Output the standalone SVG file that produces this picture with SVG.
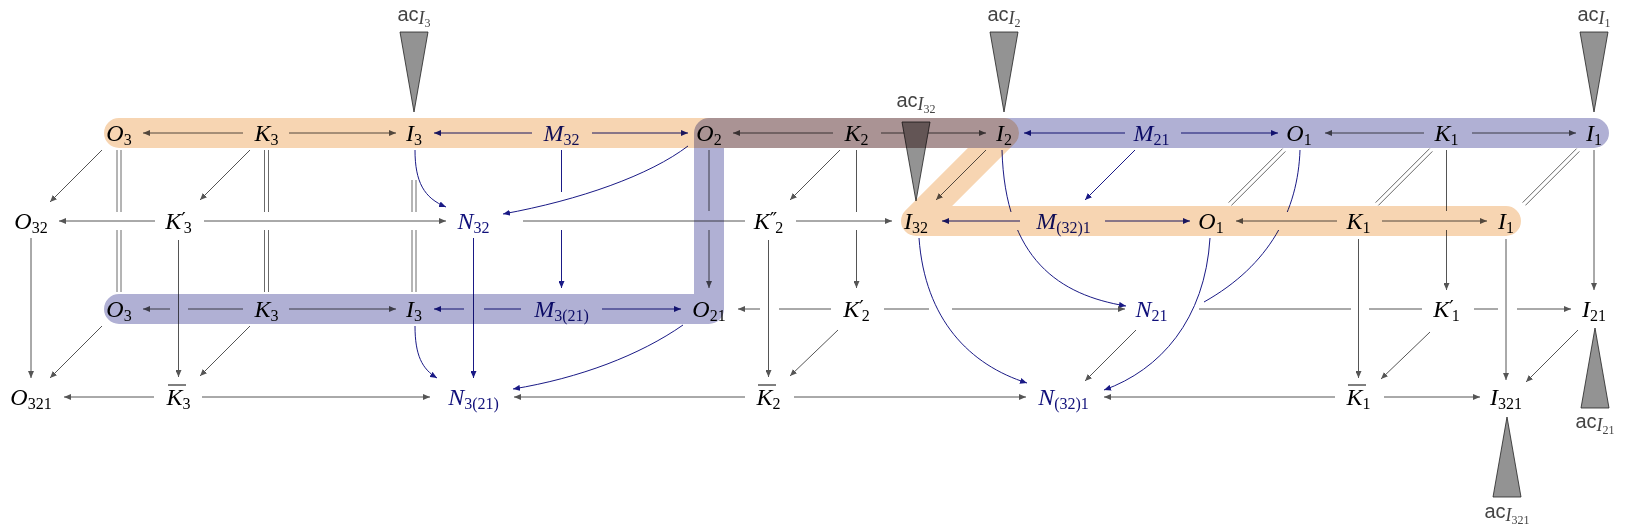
<svg xmlns="http://www.w3.org/2000/svg" width="1628" height="531" viewBox="0 0 1628 531">
<style>
.m{font-family:"Liberation Serif",serif;font-style:italic;font-size:24px;text-anchor:middle;fill:#000}
.nv{fill:#10107a}
.s{font-style:normal;font-size:16px}
.p{font-family:"DejaVu Sans",sans-serif;font-style:normal;font-size:20px}
.g{stroke:#555;stroke-width:1;fill:none}
.n{stroke:#1a1a86;stroke-width:1;fill:none}
.ga{marker-end:url(#hg)}
.na{marker-end:url(#hn)}
.eq{stroke:#6a6a6a;stroke-width:1;fill:none}
.ol{stroke:#000;stroke-width:1}
.ac{font-family:"Liberation Sans",sans-serif;font-size:20px;fill:#444;text-anchor:middle}
.aci{font-family:"Liberation Serif",serif;font-style:italic;font-size:18px}
.acd{font-family:"Liberation Serif",serif;font-style:normal;font-size:12px}
.tri{fill:#939393;stroke:#222;stroke-width:0.8}
.band{fill:none;stroke-width:30;stroke-linecap:round;stroke-linejoin:round;mix-blend-mode:multiply}
</style>
<defs>
<marker id="hg" markerWidth="8" markerHeight="6" refX="7" refY="3" orient="auto" markerUnits="userSpaceOnUse"><path d="M0,0 L7,3 L0,6 Z" fill="#555"/></marker>
<marker id="hn" markerWidth="8" markerHeight="6" refX="7" refY="3" orient="auto" markerUnits="userSpaceOnUse"><path d="M0,0 L7,3 L0,6 Z" fill="#1a1a86"/></marker>
</defs>
<rect x="0" y="0" width="1628" height="531" fill="#fff"/>

<g id="connectors">
<path class="n na" d="M415,150 C415,182 424,198 446,207"/>
<path class="n na" d="M688,146 C650,175 580,200 503,214"/>
<path class="n na" d="M415,326 C415,355 422,369 437,378"/>
<path class="n na" d="M683,325 C640,355 580,378 513,389"/>
<path class="n na" d="M1002,150 C1005,260 1060,295 1126,306"/>
<path class="n" d="M1300,150 C1298,210 1270,265 1204,302"/>
<path class="n na" d="M919,238 C925,320 970,365 1027,383"/>
<path class="n na" d="M1210,238 C1205,320 1160,370 1104,390"/>
<rect x="998" y="212" width="28" height="18" fill="#fff"/>
<rect x="1278" y="212" width="24" height="18" fill="#fff"/>
<path class="g ga" d="M243,133H143"/>
<path class="g ga" d="M289,133H396"/>
<path class="n na" d="M532,133H434"/>
<path class="n na" d="M592,133H688"/>
<path class="g ga" d="M833,133H733"/>
<path class="g ga" d="M881,133H986"/>
<path class="n na" d="M1125,133H1024"/>
<path class="n na" d="M1181,133H1278"/>
<path class="g ga" d="M1424,133H1325"/>
<path class="g ga" d="M1472,133H1576"/>
<path class="g ga" d="M155,221H59"/>
<path class="g ga" d="M204,221H446"/>
<path class="g" d="M745,221H523"/>
<path class="g ga" d="M796,221H892"/>
<path class="n na" d="M1020,221H942"/>
<path class="n na" d="M1105,221H1190"/>
<path class="g ga" d="M1337,221H1236"/>
<path class="g ga" d="M1382,221H1487"/>
<path class="g" d="M243,309H188"/>
<path class="g ga" d="M170,309H143"/>
<path class="g ga" d="M289,309H396"/>
<path class="n" d="M521,309H484"/>
<path class="n na" d="M464,309H434"/>
<path class="n na" d="M602,309H681"/>
<path class="g" d="M831,309H779"/>
<path class="g ga" d="M760,309H738"/>
<path class="g" d="M884,309H929"/>
<path class="g ga" d="M952,309H1125"/>
<path class="g" d="M1422,309H1369"/>
<path class="g" d="M1351,309H1199"/>
<path class="g" d="M1474,309H1498"/>
<path class="g ga" d="M1517,309H1571"/>
<path class="g ga" d="M154,397H64"/>
<path class="g ga" d="M202,397H430"/>
<path class="g ga" d="M745,397H514"/>
<path class="g ga" d="M794,397H1026"/>
<path class="g ga" d="M1335,397H1104"/>
<path class="g ga" d="M1384,397H1480"/>
<path class="eq" d="M117,150V212M121,150V212M117,230V292M121,230V292"/>
<path class="eq" d="M264.5,150V212M268.5,150V212M264.5,230V292M268.5,230V292"/>
<path class="eq" d="M412,180V212M416,180V212M412,230V292M416,230V292"/>
<path class="n" d="M561.5,150V192"/>
<path class="n na" d="M561.5,230V288"/>
<path class="g" d="M709,150V211"/>
<path class="g ga" d="M709,230V288"/>
<path class="g" d="M856.5,150V212"/>
<path class="g ga" d="M856.5,230V288"/>
<path class="g" d="M1446.5,150V211"/>
<path class="g ga" d="M1446.5,230V290"/>
<path class="g ga" d="M1594,150V290"/>
<path class="g ga" d="M31,238V378"/>
<path class="g ga" d="M178.5,240V377"/>
<path class="n na" d="M473.5,238V378"/>
<path class="g ga" d="M768.5,240V377"/>
<path class="g ga" d="M1358.5,239V378"/>
<path class="g ga" d="M1506,239V380"/>
<path class="g ga" d="M102,150L50,202"/>
<path class="g ga" d="M250,150L200,200"/>
<path class="g ga" d="M840,150L790,200"/>
<path class="g ga" d="M986,150L936,200"/>
<path class="n na" d="M1135,150L1085,200"/>
<path class="g ga" d="M102,326L50,378"/>
<path class="g ga" d="M250,326L200,376"/>
<path class="g ga" d="M838,330L790,376"/>
<path class="g ga" d="M1136,330L1085,381"/>
<path class="g ga" d="M1430,332L1381,379"/>
<path class="g ga" d="M1578,330L1526,382"/>
<path class="eq" d="M1285.4,151.4L1231.4,205.4M1282.6,148.6L1228.6,202.6"/>
<path class="eq" d="M1432.4,151.4L1378.4,205.4M1429.6,148.6L1375.6,202.6"/>
<path class="eq" d="M1579.4,151.4L1525.4,205.4M1576.6,148.6L1522.6,202.6"/>
</g>

<g id="cones">
<polygon class="tri" points="400,32 428,32 414,112"/>
<polygon class="tri" points="990,32 1018,32 1004,112"/>
<polygon class="tri" points="1580,32 1608,32 1594,112"/>
<polygon class="tri" points="902,122 930,122 916,201"/>
<polygon class="tri" points="1581,408 1609,408 1595,328"/>
<polygon class="tri" points="1493,497 1521,497 1507,417"/>
<text class="ac" x="414" y="21">ac<tspan class="aci" dy="3">I</tspan><tspan class="acd" dy="3">3</tspan></text>
<text class="ac" x="1004" y="21">ac<tspan class="aci" dy="3">I</tspan><tspan class="acd" dy="3">2</tspan></text>
<text class="ac" x="1594" y="21">ac<tspan class="aci" dy="3">I</tspan><tspan class="acd" dy="3">1</tspan></text>
<text class="ac" x="916" y="107">ac<tspan class="aci" dy="3">I</tspan><tspan class="acd" dy="3">32</tspan></text>
<text class="ac" x="1595" y="428">ac<tspan class="aci" dy="3">I</tspan><tspan class="acd" dy="3">21</tspan></text>
<text class="ac" x="1507" y="518">ac<tspan class="aci" dy="3">I</tspan><tspan class="acd" dy="3">321</tspan></text>
</g>

<g id="O3-top"><text class="m" x="119" y="141">O<tspan class="s" dy="4">3</tspan></text></g>
<g id="K3-top"><text class="m" x="266.5" y="141">K<tspan class="s" dy="4">3</tspan></text></g>
<g id="I3-top"><text class="m" x="414" y="141">I<tspan class="s" dy="4">3</tspan></text></g>
<g id="M32"><text class="m nv" x="561.5" y="141">M<tspan class="s" dy="4">32</tspan></text></g>
<g id="O2"><text class="m" x="709" y="141">O<tspan class="s" dy="4">2</tspan></text></g>
<g id="K2"><text class="m" x="856.5" y="141">K<tspan class="s" dy="4">2</tspan></text></g>
<g id="I2"><text class="m" x="1004" y="141">I<tspan class="s" dy="4">2</tspan></text></g>
<g id="M21"><text class="m nv" x="1151.5" y="141">M<tspan class="s" dy="4">21</tspan></text></g>
<g id="O1-top"><text class="m" x="1299" y="141">O<tspan class="s" dy="4">1</tspan></text></g>
<g id="K1-top"><text class="m" x="1446.5" y="141">K<tspan class="s" dy="4">1</tspan></text></g>
<g id="I1-top"><text class="m" x="1594" y="141">I<tspan class="s" dy="4">1</tspan></text></g>
<g id="O32"><text class="m" x="31" y="229">O<tspan class="s" dy="4">32</tspan></text></g>
<g id="K3p"><text class="m" x="178.5" y="229">K<tspan class="p" dy="-3">′</tspan><tspan class="s" dx="-2" dy="7">3</tspan></text></g>
<g id="N32"><text class="m nv" x="473.5" y="229">N<tspan class="s" dy="4">32</tspan></text></g>
<g id="K2pp"><text class="m" x="768.5" y="229">K<tspan class="p" dy="-3">″</tspan><tspan class="s" dx="-2" dy="7">2</tspan></text></g>
<g id="I32"><text class="m" x="916" y="229">I<tspan class="s" dy="4">32</tspan></text></g>
<g id="M321"><text class="m nv" x="1063.5" y="229">M<tspan class="s" dy="4">(32)1</tspan></text></g>
<g id="O1-front"><text class="m" x="1211" y="229">O<tspan class="s" dy="4">1</tspan></text></g>
<g id="K1-front"><text class="m" x="1358.5" y="229">K<tspan class="s" dy="4">1</tspan></text></g>
<g id="I1-front"><text class="m" x="1506" y="229">I<tspan class="s" dy="4">1</tspan></text></g>
<g id="O3-low"><text class="m" x="119" y="317">O<tspan class="s" dy="4">3</tspan></text></g>
<g id="K3-low"><text class="m" x="266.5" y="317">K<tspan class="s" dy="4">3</tspan></text></g>
<g id="I3-low"><text class="m" x="414" y="317">I<tspan class="s" dy="4">3</tspan></text></g>
<g id="M3_21"><text class="m nv" x="561.5" y="317">M<tspan class="s" dy="4">3(21)</tspan></text></g>
<g id="O21"><text class="m" x="709" y="317">O<tspan class="s" dy="4">21</tspan></text></g>
<g id="K2p"><text class="m" x="856.5" y="317">K<tspan class="p" dy="-3">′</tspan><tspan class="s" dx="-2" dy="7">2</tspan></text></g>
<g id="N21"><text class="m nv" x="1151.5" y="317">N<tspan class="s" dy="4">21</tspan></text></g>
<g id="K1p"><text class="m" x="1446.5" y="317">K<tspan class="p" dy="-3">′</tspan><tspan class="s" dx="-2" dy="7">1</tspan></text></g>
<g id="I21"><text class="m" x="1594" y="317">I<tspan class="s" dy="4">21</tspan></text></g>
<g id="O321"><text class="m" x="31" y="405">O<tspan class="s" dy="4">321</tspan></text></g>
<g id="K3bar"><text class="m" x="178.5" y="405">K<tspan class="s" dy="4">3</tspan></text><line class="ol" x1="168" y1="385" x2="186" y2="385"/></g>
<g id="N3_21"><text class="m nv" x="473.5" y="405">N<tspan class="s" dy="4">3(21)</tspan></text></g>
<g id="K2bar"><text class="m" x="768.5" y="405">K<tspan class="s" dy="4">2</tspan></text><line class="ol" x1="758" y1="385" x2="776" y2="385"/></g>
<g id="N32_1"><text class="m nv" x="1063.5" y="405">N<tspan class="s" dy="4">(32)1</tspan></text></g>
<g id="K1bar"><text class="m" x="1358.5" y="405">K<tspan class="s" dy="4">1</tspan></text><line class="ol" x1="1348" y1="385" x2="1366" y2="385"/></g>
<g id="I321"><text class="m" x="1506" y="405">I<tspan class="s" dy="4">321</tspan></text></g>

<g id="bands">
<path class="band" stroke="#b0b0d4" d="M1594,133 L709,133 L709,309 L119,309"/>
<path class="band" stroke="#f7d5b2" d="M119,133 L1004,133 L916,221 L1506,221"/>
</g>
</svg>
